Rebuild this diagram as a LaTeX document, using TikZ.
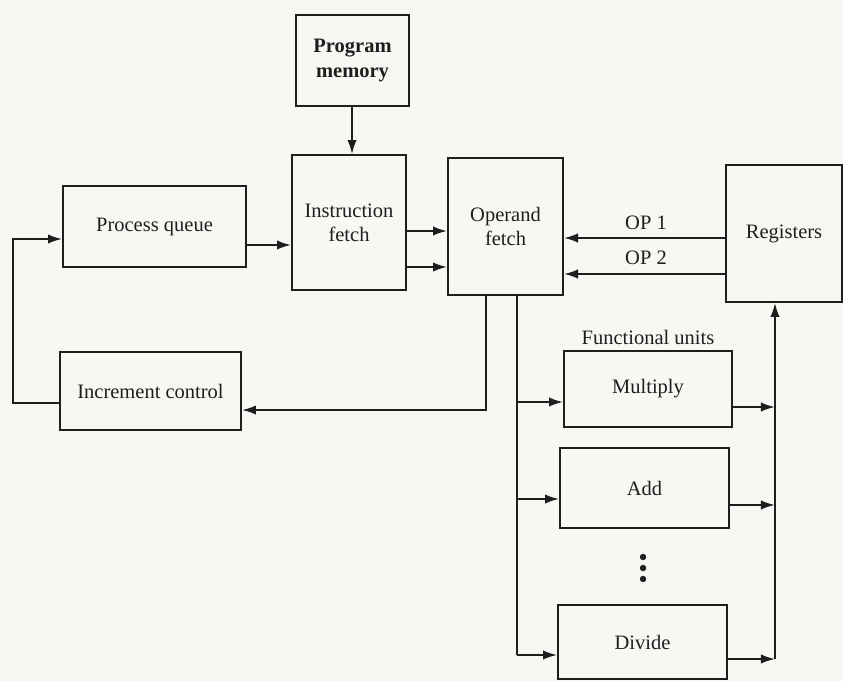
\documentclass[tikz,border=0pt]{standalone}
\usepackage{fontspec}
\setmainfont{Liberation Serif}
\usetikzlibrary{arrows.meta}
\definecolor{ink}{RGB}{30,30,30}
\definecolor{paper}{RGB}{247,247,244}
\tikzset{
  box/.style 2 args={draw=ink, line width=1.6pt, align=center, inner sep=0pt,
    minimum width=#1*0.03cm, minimum height=#2*0.03cm,
    font=\fontsize{17.5}{20.5}\selectfont, text=ink},
  wire/.style={draw=ink, line width=1.6pt},
  flow/.style={wire, -{Latex[length=12pt,width=8pt]}},
  tag/.style={font=\fontsize{17.5}{20.5}\selectfont, text=ink, inner sep=0pt},
}
\begin{document}
\begin{tikzpicture}[x=0.03cm, y=-0.03cm]
  \clip (0,0) rectangle (843,681);
  \fill[paper] (0,0) rectangle (843,681);

  % main pipeline blocks
  \node[box={113}{91}, font=\bfseries\fontsize{17.5}{20.5}\selectfont] (pm) at (352.5,60.5) {Program\\memory};
  \node[box={183}{81}]  (pq)  at (154.5,226.5) {Process queue};
  \node[box={114}{135}] (ifu) at (349,222.5)   {Instruction\\fetch};
  \node[box={115}{137}] (ofu) at (505.5,226.5) {Operand\\fetch};
  \node[box={116}{137}] (reg) at (784,233.5)   {Registers};
  \node[box={181}{78}]  (ic)  at (150.5,391)   {Increment control};

  % functional units
  \node[tag] (fu) at (648,337) {Functional units};
  \node[box={168}{76}] (mul) at (648,389)   {Multiply};
  \node[box={169}{80}] (add) at (644.5,488) {Add};
  \node[box={169}{74}] (dvd) at (642.5,642) {Divide};
  \foreach \yy/\nm in {557/d1,568/d2,579/d3}
    \node[circle, fill=ink, inner sep=0pt, minimum size=5.5pt] (\nm) at (643,\yy) {};

  % instruction path
  \draw[flow] (pm.south -| 352,0) -- (ifu.north -| 352,0);
  \draw[flow] (pq.east |- 0,245) -- (ifu.west |- 0,245);
  \draw[flow] (ifu.east |- 0,231) -- (ofu.west |- 0,231);
  \draw[flow] (ifu.east |- 0,267) -- (ofu.west |- 0,267);

  % operands from the register file
  \draw[flow] (reg.west |- 0,238) -- (ofu.east |- 0,238);
  \draw[flow] (reg.west |- 0,274) -- (ofu.east |- 0,274);
  \node[tag] (op1) at (646,223) {OP 1};
  \node[tag] (op2) at (646,258) {OP 2};

  % increment loop back to the queue
  \draw[flow] (ofu.south -| 486,0) |- (ic.east |- 0,410);
  \draw[flow] (ic.west |- 0,403) -- (13,403) -- (13,239) -- (pq.west |- 0,239);

  % dispatch to the functional units
  \draw[wire] (ofu.south -| 517,0) -- (517,655);
  \draw[flow] (517,402) -- (mul.west |- 0,402);
  \draw[flow] (517,499) -- (add.west |- 0,499);
  \draw[flow] (517,655) -- (dvd.west |- 0,655);

  % results written back
  \draw[flow] (mul.east |- 0,407) -- (775,407);
  \draw[flow] (add.east |- 0,505) -- (775,505);
  \draw[flow] (dvd.east |- 0,659) -- (775,659);
  \draw[flow] (775,659) -- (reg.south -| 775,0);
\end{tikzpicture}
\end{document}
